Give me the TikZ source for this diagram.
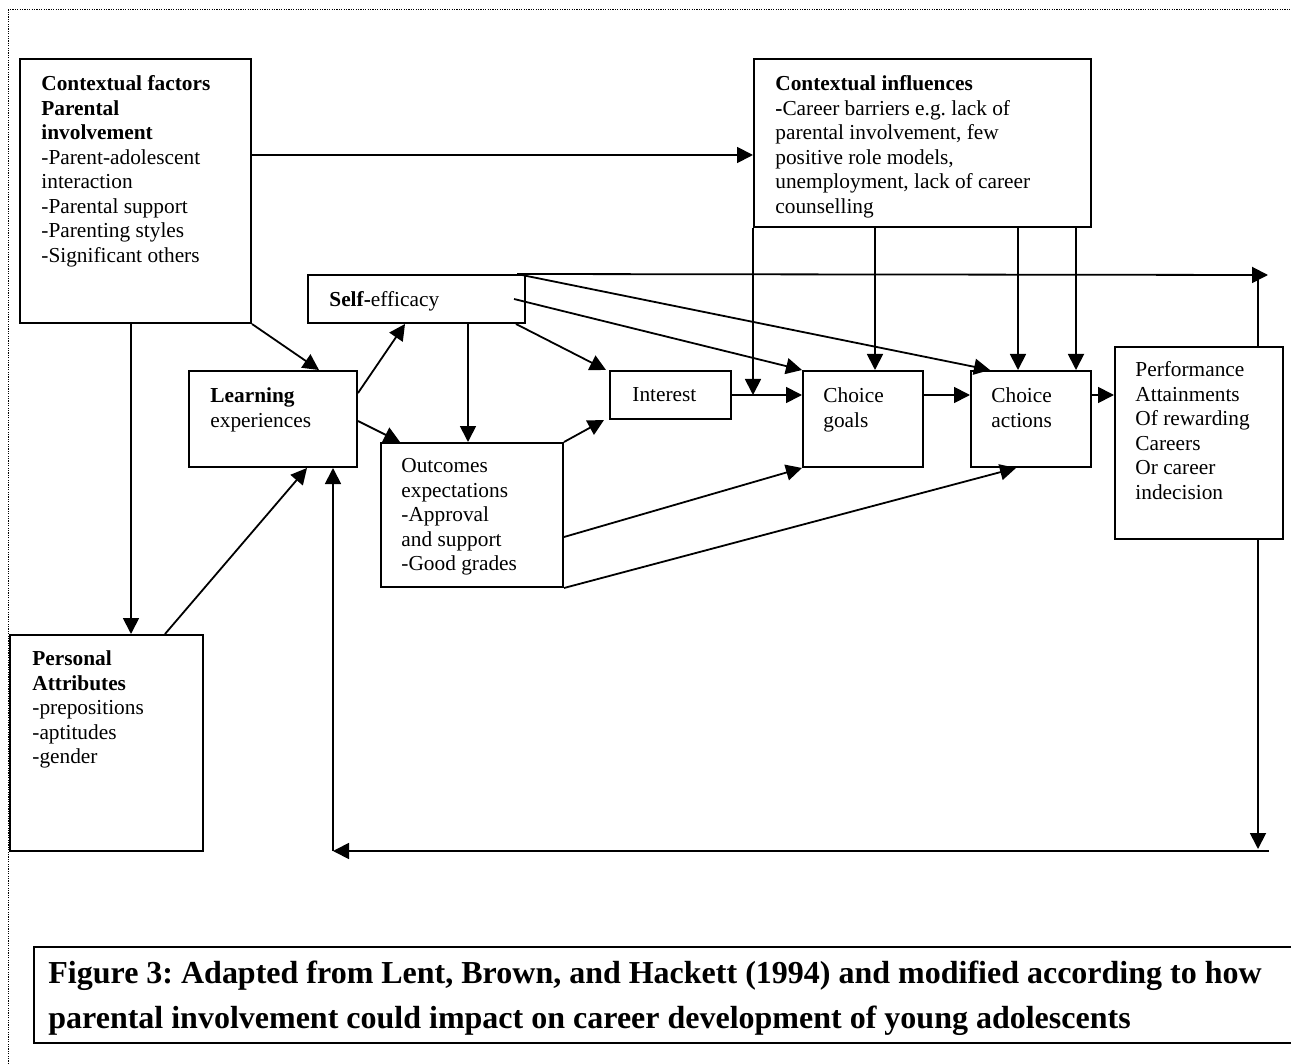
\documentclass[tikz,border=0pt]{standalone}
\usepackage{fontspec}
\setmainfont{Liberation Serif}
\frenchspacing
\usetikzlibrary{arrows.meta,fit}
\tikzset{
  frame/.style={line width=0.5pt,dash pattern=on 0.6pt off 0.6pt},
  box/.style={draw=black,line width=1pt,inner sep=0pt},
  boxtext/.style={inner sep=0pt,align=left,anchor=north west,yshift=7.3pt,font=\fontsize{10.67pt}{12.25pt}\selectfont},
  captext/.style={boxtext,yshift=3.5pt,font=\fontsize{16pt}{22.5pt}\selectfont\bfseries},
  link/.style={line width=0.9pt,draw=black,-{Triangle[length=8pt,width=8pt]}},
  wire/.style={line width=0.9pt,draw=black},
  capbox/.style={draw=black,line width=1.4pt,inner sep=0pt}
}
\begin{document}
\begin{tikzpicture}[x=0.5pt,y=-0.5pt]
  \useasboundingbox (0,0) rectangle (1291,1064);
  \clip (0,0) rectangle (1291,1064);
  \draw[frame] (8,1064) -- (8,10) -- (1291,10);

  % boxes
  \node[box,fit={(20,59) (251,323)}] (cf) {};
  \node[box,fit={(754,59) (1091,227)}] (ci) {};
  \node[box,fit={(308,275) (525,323)}] (se) {};
  \node[box,fit={(189,371) (357,467)}] (le) {};
  \node[box,fit={(610,371) (731,419)}] (int) {};
  \node[box,fit={(803,371) (923,467)}] (cg) {};
  \node[box,fit={(971,371) (1091,467)}] (ca) {};
  \node[box,fit={(1115,347) (1283,539)}] (perf) {};
  \node[box,fit={(381,443) (563,587)}] (oe) {};
  \node[box,fit={(10,635) (203,851)}] (pa) {};
  \node[capbox,fit={(34,947) (1310,1043)}] (cap) {};

  % texts (first baselines)
  \node[boxtext] (cf-t) at (41,90) {\textbf{Contextual factors}\\\textbf{Parental}\\\textbf{involvement}\\-Parent-adolescent\\interaction\\-Parental support\\-Parenting styles\\-Significant others};
  \node[boxtext] (ci-t) at (775,90) {\textbf{Contextual influences}\\\textbf{-}Career barriers e.g. lack of\\parental involvement, few\\positive role models,\\unemployment, lack of career\\counselling};
  \node[boxtext] (se-t) at (329,306) {\textbf{Self-}efficacy};
  \node[boxtext] (le-t) at (210,402) {\textbf{Learning}\\experiences};
  \node[boxtext] (int-t) at (632,402) {Interest};
  \node[boxtext] (cg-t) at (823,402) {Choice\\goals};
  \node[boxtext] (ca-t) at (991,402) {Choice\\actions};
  \node[boxtext] (perf-t) at (1135,376) {Performance\\Attainments\\Of rewarding\\Careers\\Or career\\indecision};
  \node[boxtext] (oe-t) at (401,473) {Outcomes\\expectations\\-Approval\\and support\\-Good grades};
  \node[boxtext] (pa-t) at (32,665) {\textbf{Personal}\\\textbf{Attributes}\\-prepositions\\-aptitudes\\-gender};
  \node[captext] (cap-t) at (48,982)
    {Figure 3: Adapted from Lent, Brown, and Hackett (1994) and modified according to how\\parental involvement could impact on career development of young adolescents};

  % loose ends
  \coordinate (topR) at (1268,275);
  \coordinate (loopR) at (1269,851);
  \coordinate (loopL) at (333,851);

  % connectors
  \draw[link] (cf.east |- 0,155) -- (ci.west |- 0,155);
  \draw[link] (131,0 |- cf.south) -- (131,0 |- pa.north);
  \draw[link] (cf.south east) -- (319,0 |- le.north);
  \draw[link] (165,0 |- pa.north) -- (307,0 |- le.south);
  \draw[link] (le.east |- 0,393) -- (405,0 |- se.south);
  \draw[link] (le.east |- 0,421) -- (400,0 |- oe.north);
  \draw[link] (517,0 |- se.north) -- (topR);
  \draw[wire] (1258,0 |- perf.north) -- (1258,0 |- topR);
  \draw[link] (517,0 |- se.north) -- (990,0 |- ca.north);
  \draw[link] (514,0 |- se.east) -- (cg.north west);
  \draw[link] (516,0 |- se.south) -- (606,0 |- int.north);
  \draw[link] (468,0 |- se.south) -- (468,0 |- oe.north);
  \draw[link] (oe.north east) -- (604,0 |- int.south);
  \draw[link] (oe.east |- 0,537) -- (cg.south west);
  \draw[link] (oe.south east) -- (1016,0 |- ca.south);
  \draw[link] (int.east) -- (int.east -| cg.west);
  \draw[link] (ci.south west) -- (ci.south west |- int.east);
  \draw[link] (875,0 |- ci.south) -- (875,0 |- cg.north);
  \draw[link] (1018,0 |- ci.south) -- (1018,0 |- ca.north);
  \draw[link] (1076,0 |- ci.south) -- (1076,0 |- ca.north);
  \draw[link] (int.east -| cg.east) -- (int.east -| ca.west);
  \draw[link] (int.east -| ca.east) -- (int.east -| perf.west);
  \draw[link] (1258,0 |- perf.south) -- (1258,849);
  \draw[link] (loopR) -- (loopL);
  \draw[link] (loopL) -- (loopL |- le.south);
\end{tikzpicture}
\end{document}
